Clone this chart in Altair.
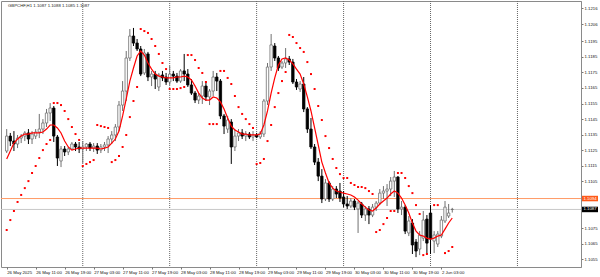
import altair as alt
import pandas as pd

title_text = "GBPCHF,H1  1.1087 1.1088 1.1085 1.1087"

opens = [1.11245, 1.11341, 1.11309, 1.11290, 1.11328, 1.11341, 1.11361, 1.11322, 1.11341, 1.11367,
         1.11386, 1.11425, 1.11489, 1.11521, 1.11335, 1.11181, 1.11258, 1.11239, 1.11258, 1.11290,
         1.11271, 1.11258, 1.11271, 1.11290, 1.11264, 1.11277, 1.11251, 1.11271, 1.11284, 1.11322,
         1.11348, 1.11399, 1.11540, 1.11630, 1.11842, 1.11983, 1.11938, 1.11900, 1.11746, 1.11868,
         1.11720, 1.11739, 1.11656, 1.11733, 1.11720, 1.11688, 1.11739, 1.11726, 1.11694, 1.11759,
         1.11739, 1.11669, 1.11617, 1.11572, 1.11598, 1.11662, 1.11592, 1.11630, 1.11720, 1.11694,
         1.11470, 1.11386, 1.11431, 1.11271, 1.11341, 1.11361, 1.11341, 1.11354, 1.11335, 1.11348,
         1.11335, 1.11354, 1.11566, 1.11784, 1.11919, 1.11842, 1.11784, 1.11810, 1.11836, 1.11816,
         1.11688, 1.11643, 1.11675, 1.11515, 1.11386, 1.11271, 1.11174, 1.11084, 1.10937, 1.11040,
         1.10937, 1.11001, 1.10988, 1.10950, 1.10905, 1.10892, 1.10924, 1.10873, 1.10905, 1.10834,
         1.10873, 1.10834, 1.10885, 1.10911, 1.10975, 1.10988, 1.11001, 1.11052, 1.11078, 1.10873,
         1.10885, 1.10719, 1.10783, 1.10661, 1.10616, 1.10686, 1.10808, 1.10847, 1.10667, 1.10648,
         1.10699, 1.10796, 1.10828, 1.10870]
highs = [1.11386, 1.11361, 1.11373, 1.11348, 1.11354, 1.11373, 1.11386, 1.11373, 1.11386, 1.11483,
         1.11450, 1.11515, 1.11553, 1.11534, 1.11348, 1.11277, 1.11277, 1.11271, 1.11303, 1.11303,
         1.11303, 1.11309, 1.11296, 1.11303, 1.11296, 1.11296, 1.11290, 1.11303, 1.11341, 1.11373,
         1.11418, 1.11566, 1.11694, 1.11887, 1.12028, 1.12035, 1.11964, 1.11919, 1.11900, 1.11881,
         1.11759, 1.11759, 1.11746, 1.11759, 1.11746, 1.11791, 1.11759, 1.11746, 1.11771, 1.11868,
         1.11771, 1.11707, 1.11630, 1.11617, 1.11694, 1.11694, 1.11643, 1.11759, 1.11746, 1.11707,
         1.11483, 1.11470, 1.11450, 1.11386, 1.11386, 1.11386, 1.11373, 1.11367, 1.11373, 1.11361,
         1.11373, 1.11579, 1.11810, 1.11996, 1.11938, 1.11855, 1.11823, 1.11906, 1.11855, 1.11836,
         1.11707, 1.11694, 1.11720, 1.11527, 1.11457, 1.11290, 1.11200, 1.11129, 1.11065, 1.11052,
         1.11020, 1.11020, 1.11040, 1.10988, 1.10956, 1.10943, 1.10937, 1.10924, 1.10918, 1.10892,
         1.10892, 1.10905, 1.10924, 1.11001, 1.11020, 1.11033, 1.11078, 1.11117, 1.11084, 1.10924,
         1.10898, 1.10828, 1.10808, 1.10680, 1.10731, 1.10860, 1.10834, 1.10898, 1.10731, 1.10731,
         1.10828, 1.10924, 1.10905, 1.10880]
lows = [1.11232, 1.11277, 1.11245, 1.11264, 1.11296, 1.11309, 1.11290, 1.11290, 1.11322, 1.11328,
        1.11354, 1.11399, 1.11438, 1.11303, 1.11149, 1.11142, 1.11213, 1.11219, 1.11251, 1.11245,
        1.11232, 1.11168, 1.11245, 1.11245, 1.11239, 1.11226, 1.11232, 1.11245, 1.11232, 1.11290,
        1.11309, 1.11373, 1.11502, 1.11566, 1.11823, 1.11919, 1.11887, 1.11726, 1.11733, 1.11694,
        1.11662, 1.11643, 1.11630, 1.11694, 1.11669, 1.11669, 1.11694, 1.11682, 1.11682, 1.11694,
        1.11656, 1.11605, 1.11553, 1.11547, 1.11547, 1.11566, 1.11540, 1.11598, 1.11630, 1.11450,
        1.11354, 1.11361, 1.11162, 1.11245, 1.11309, 1.11322, 1.11309, 1.11322, 1.11309, 1.11328,
        1.11322, 1.11335, 1.11540, 1.11759, 1.11823, 1.11759, 1.11771, 1.11778, 1.11797, 1.11675,
        1.11637, 1.11624, 1.11495, 1.11361, 1.11258, 1.11155, 1.11052, 1.10911, 1.10924, 1.10918,
        1.10924, 1.10943, 1.10918, 1.10885, 1.10873, 1.10879, 1.10866, 1.10719, 1.10815, 1.10796,
        1.10776, 1.10821, 1.10860, 1.10898, 1.10937, 1.10892, 1.10956, 1.10950, 1.10847, 1.10834,
        1.10712, 1.10699, 1.10584, 1.10564, 1.10577, 1.10667, 1.10584, 1.10584, 1.10590, 1.10629,
        1.10686, 1.10783, 1.10815, 1.10850]
closes = [1.11341, 1.11309, 1.11290, 1.11328, 1.11341, 1.11361, 1.11322, 1.11354, 1.11367, 1.11386,
          1.11425, 1.11489, 1.11521, 1.11341, 1.11200, 1.11258, 1.11239, 1.11258, 1.11290, 1.11271,
          1.11258, 1.11271, 1.11290, 1.11264, 1.11277, 1.11251, 1.11271, 1.11284, 1.11322, 1.11348,
          1.11399, 1.11540, 1.11630, 1.11842, 1.11983, 1.11938, 1.11900, 1.11739, 1.11874, 1.11720,
          1.11739, 1.11707, 1.11733, 1.11714, 1.11688, 1.11739, 1.11726, 1.11694, 1.11759, 1.11739,
          1.11669, 1.11617, 1.11572, 1.11598, 1.11662, 1.11592, 1.11630, 1.11720, 1.11694, 1.11470,
          1.11405, 1.11444, 1.11271, 1.11341, 1.11361, 1.11341, 1.11354, 1.11335, 1.11348, 1.11335,
          1.11361, 1.11566, 1.11784, 1.11926, 1.11842, 1.11778, 1.11810, 1.11836, 1.11816, 1.11688,
          1.11656, 1.11675, 1.11515, 1.11386, 1.11271, 1.11174, 1.11084, 1.10937, 1.11040, 1.10937,
          1.11001, 1.10969, 1.10943, 1.10905, 1.10892, 1.10924, 1.10885, 1.10911, 1.10834, 1.10873,
          1.10834, 1.10885, 1.10911, 1.10975, 1.10988, 1.11001, 1.11052, 1.11078, 1.10873, 1.10885,
          1.10731, 1.10796, 1.10642, 1.10603, 1.10706, 1.10802, 1.10654, 1.10680, 1.10706, 1.10712,
          1.10802, 1.10885, 1.10847, 1.10870]
ma_values = [1.11194, 1.11245, 1.11296, 1.11322, 1.11341, 1.11354, 1.11354, 1.11361, 1.11361, 1.11361,
             1.11367, 1.11386, 1.11412, 1.11412, 1.11393, 1.11361, 1.11309, 1.11271, 1.11251, 1.11258,
             1.11264, 1.11264, 1.11264, 1.11264, 1.11264, 1.11264, 1.11258, 1.11264, 1.11271, 1.11296,
             1.11322, 1.11373, 1.11470, 1.11579, 1.11694, 1.11778, 1.11855, 1.11887, 1.11861, 1.11810,
             1.11771, 1.11739, 1.11726, 1.11720, 1.11714, 1.11714, 1.11714, 1.11720, 1.11720, 1.11726,
             1.11720, 1.11701, 1.11662, 1.11617, 1.11585, 1.11572, 1.11572, 1.11592, 1.11585, 1.11560,
             1.11515, 1.11457, 1.11405, 1.11380, 1.11367, 1.11354, 1.11354, 1.11348, 1.11348, 1.11348,
             1.11354, 1.11412, 1.11502, 1.11617, 1.11714, 1.11797, 1.11836, 1.11842, 1.11829, 1.11804,
             1.11771, 1.11739, 1.11675, 1.11592, 1.11502, 1.11393, 1.11284, 1.11174, 1.11104, 1.11040,
             1.11007, 1.10988, 1.10982, 1.10975, 1.10969, 1.10963, 1.10950, 1.10930, 1.10905, 1.10885,
             1.10866, 1.10860, 1.10879, 1.10905, 1.10924, 1.10943, 1.10969, 1.10988, 1.10975, 1.10943,
             1.10898, 1.10847, 1.10783, 1.10731, 1.10706, 1.10699, 1.10686, 1.10680, 1.10686, 1.10699,
             1.10706, 1.10744, 1.10783, 1.10815]
sar_values = [1.10738, 1.10802, 1.10860, 1.10918, 1.10963, 1.11007, 1.11052, 1.11104, 1.11149, 1.11200,
              1.11251, 1.11290, 1.11316, 1.11553, 1.11553, 1.11540, 1.11502, 1.11450, 1.11399, 1.11354,
              1.11316, 1.11149, 1.11162, 1.11174, 1.11187, 1.11412, 1.11405, 1.11399, 1.11393, 1.11174,
              1.11187, 1.11213, 1.11271, 1.11348, 1.11463, 1.11566, 1.11656, 1.12028, 1.12015, 1.12003,
              1.11964, 1.11919, 1.11868, 1.11810, 1.11771, 1.11643, 1.11643, 1.11643, 1.11649, 1.11656,
              1.11861, 1.11861, 1.11829, 1.11778, 1.11746, 1.11688, 1.11418, 1.11418, 1.11418, 1.11759,
              1.11759, 1.11714, 1.11675, 1.11598, 1.11527, 1.11483, 1.11450, 1.11418, 1.11393, 1.11162,
              1.11168, 1.11194, 1.11309, 1.11412, 1.11527, 1.11617, 1.11694, 1.11752, 1.11990, 1.11977,
              1.11938, 1.11906, 1.11881, 1.11816, 1.11739, 1.11643, 1.11534, 1.11444, 1.11341, 1.11264,
              1.11194, 1.11136, 1.11097, 1.11072, 1.11072, 1.11040, 1.11027, 1.11014, 1.11014, 1.11007,
              1.10988, 1.10969, 1.10725, 1.10738, 1.10776, 1.10815, 1.10860, 1.10860, 1.11104, 1.11104,
              1.11072, 1.11020, 1.10975, 1.10898, 1.10841, 1.10577, 1.10584, None, 1.10898, 1.10898,
              None, 1.10590, 1.10603, 1.10629]

x_tick_labels = ["26 May 2025", "26 May 11:00", "26 May 19:00", "27 May 03:00", "27 May 11:00",
                 "27 May 19:00", "28 May 03:00", "28 May 11:00", "28 May 19:00", "29 May 03:00",
                 "29 May 11:00", "29 May 19:00", "30 May 03:00", "30 May 11:00", "30 May 19:00",
                 "2 Jun 03:00"]
y_tick_labels = ["1.1055", "1.1065", "1.1075", "1.1105", "1.1115", "1.1125", "1.1135", "1.1145",
                 "1.1155", "1.1165", "1.1175", "1.1185", "1.1195", "1.1206", "1.1216"]
separator_bars = [21, 45, 69, 93, 117, 141]
bid_price = 1.1087
line_price = 1.1094
line_label = "1.1094"
bid_label = "1.1087"

n = len(opens)
df = pd.DataFrame({"i": list(range(n)), "open": opens, "high": highs, "low": lows,
                   "close": closes, "ma": ma_values, "sar": sar_values})
df["dir"] = ["up" if c >= o else "down" for o, c in zip(opens, closes)]
sar_df = df[df["sar"].notna()]

FONT = "Liberation Sans"
FS = 4.3
xscale = alt.Scale(domain=[-0.19, 157.16], nice=False, zero=False)
yscale = alt.Scale(domain=[1.105006, 1.122079], nice=False, zero=False)
label_expr = "[" + ",".join("'%s'" % s for s in x_tick_labels) + "][round(datum.value/8)]"
xaxis = alt.Axis(values=[8 * k for k in range(len(x_tick_labels))], labelExpr=label_expr,
                 title=None, grid=False, domain=False, tickSize=2, tickColor="#777",
                 labelFontSize=FS, labelAlign="left", labelPadding=1.5, labelColor="#111",
                 labelFont=FONT, labelOverlap=False, labelFlush=False)
yaxis = alt.Axis(values=[float(v) for v in y_tick_labels], format=".4f", orient="right",
                 title=None, grid=False, domain=True, domainColor="#8a8a8a", tickSize=2,
                 tickColor="#777", labelFontSize=FS, labelPadding=1, labelColor="#111",
                 labelFont=FONT, labelOverlap=False, labelFlush=False)

X = alt.X("i:Q", scale=xscale, axis=xaxis)
dir_stroke = alt.Scale(domain=["up", "down"], range=["#707070", "#000000"])
dir_fill = alt.Scale(domain=["up", "down"], range=["#ffffff", "#000000"])

wicks = alt.Chart(df).mark_rule(strokeWidth=1, clip=True).encode(
    x=X,
    y=alt.Y("low:Q", scale=yscale, axis=yaxis),
    y2="high:Q",
    color=alt.Color("dir:N", scale=dir_stroke, legend=None),
)
bodies = alt.Chart(df).mark_bar(size=2.4, strokeWidth=0.8, clip=True).encode(
    x=X,
    y=alt.Y("open:Q", scale=yscale, axis=yaxis),
    y2="close:Q",
    fill=alt.Fill("dir:N", scale=dir_fill, legend=None),
    stroke=alt.Stroke("dir:N", scale=dir_stroke, legend=None),
)
ma_line = alt.Chart(df).mark_line(color="#ff0000", strokeWidth=1.2, clip=True).encode(
    x=X, y=alt.Y("ma:Q", scale=yscale, axis=yaxis))
sar_pts = alt.Chart(sar_df).mark_square(size=4, color="#ff0000", opacity=1, clip=True).encode(
    x=X, y=alt.Y("sar:Q", scale=yscale, axis=yaxis))

sep_df = pd.DataFrame({"i": separator_bars})
seps = alt.Chart(sep_df).mark_rule(color="#666666", strokeWidth=1, strokeDash=[1, 1], clip=True).encode(
    x=X, y=alt.value(0), y2=alt.value(266))

hl_df = pd.DataFrame({"price": [line_price], "label": [line_label]})
bid_df = pd.DataFrame({"price": [bid_price], "label": [bid_label]})
orange_line = alt.Chart(hl_df).mark_rule(color="#ff9a66", strokeWidth=1).encode(
    y=alt.Y("price:Q", scale=yscale, axis=yaxis), x=alt.value(0), x2=alt.value(580))
bid_line = alt.Chart(bid_df).mark_rule(color="#c8c8c8", strokeWidth=1).encode(
    y=alt.Y("price:Q", scale=yscale, axis=yaxis), x=alt.value(0), x2=alt.value(580))
orange_box = alt.Chart(hl_df).mark_tick(orient="horizontal", size=16, thickness=5.5, color="#ff5a1a", opacity=1).encode(
    y=alt.Y("price:Q", scale=yscale, axis=yaxis), x=alt.value(589))
bid_box = alt.Chart(bid_df).mark_tick(orient="horizontal", size=16, thickness=5.5, color="#000000", opacity=1).encode(
    y=alt.Y("price:Q", scale=yscale, axis=yaxis), x=alt.value(589))
orange_txt = alt.Chart(hl_df).mark_text(fontSize=FS, color="#ffffff", font=FONT, align="center", baseline="middle").encode(
    y=alt.Y("price:Q", scale=yscale, axis=yaxis), x=alt.value(589), text="label:N")
bid_txt = alt.Chart(bid_df).mark_text(fontSize=FS, color="#ffffff", font=FONT, align="center", baseline="middle").encode(
    y=alt.Y("price:Q", scale=yscale, axis=yaxis), x=alt.value(589), text="label:N")

title_df = pd.DataFrame({"t": [title_text]})
title = alt.Chart(title_df).mark_text(fontSize=FS, color="#222222", font=FONT, align="left", baseline="middle").encode(
    x=alt.value(7), y=alt.value(4.5), text="t:N")

chart = alt.layer(
    seps, orange_line, bid_line, wicks, bodies, ma_line, sar_pts,
    orange_box, bid_box, orange_txt, bid_txt, title
).properties(
    width=580, height=266,
    padding={"left": 1, "top": 1, "right": 19, "bottom": 10},
    autosize="none", background="#ffffff"
).configure_view(stroke="#8a8a8a", strokeWidth=1)

chart.save("out.html", embed_options={"renderer": "svg", "actions": False})
